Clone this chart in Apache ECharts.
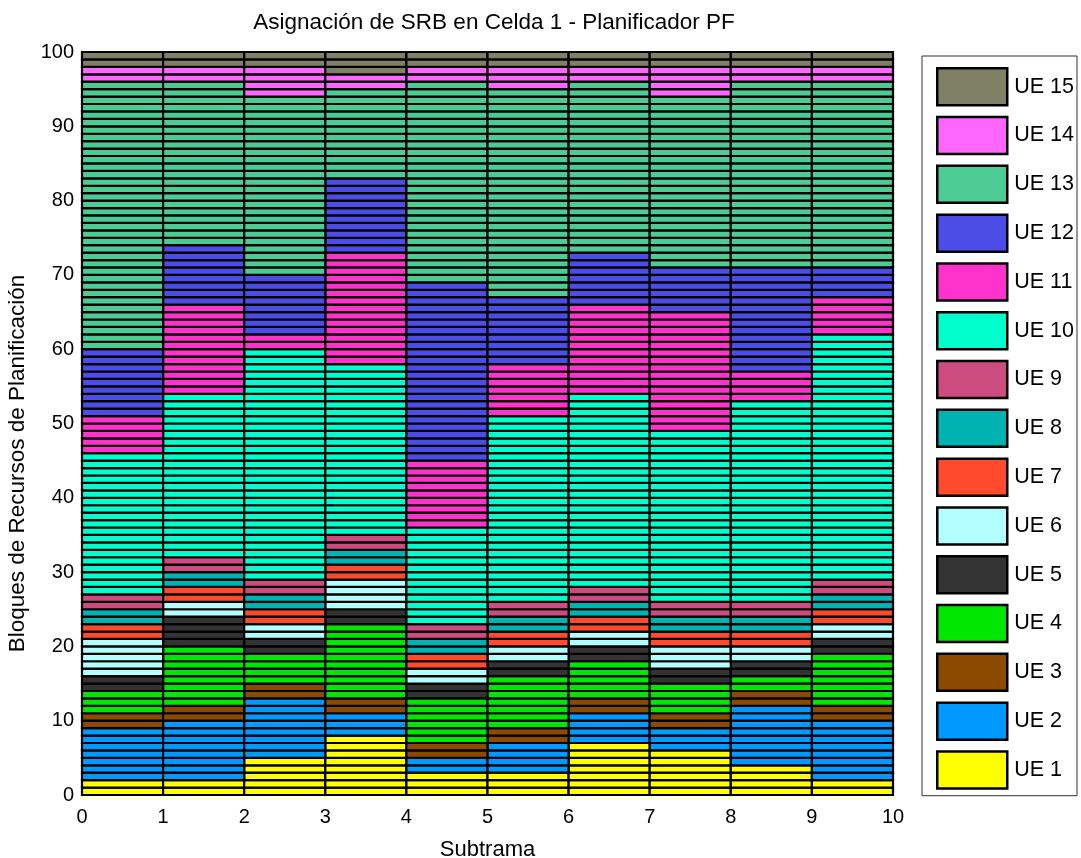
<!DOCTYPE html>
<html>
<head>
<meta charset="utf-8">
<script src="https://cdn.jsdelivr.net/npm/echarts@6/dist/echarts.min.js"></script>
<style>
	html, body { margin: 0; padding: 0; background: #fff; }
	#chart { width: 1081px; height: 858px; }
</style>
</head>
<body>
<div id="chart"></div>
<script>
// subtramas (inicio de cada barra en el eje x)
var subtramas = [0, 1, 2, 3, 4, 5, 6, 7, 8, 9];

// bloques de recursos asignados a cada UE en cada subtrama
var ue1  = [2, 2, 5, 8, 3, 3, 7, 6, 4, 2];
var ue2  = [7, 8, 8, 3, 2, 4, 4, 3, 8, 8];
var ue3  = [2, 2, 2, 2, 2, 2, 2, 2, 2, 2];
var ue4  = [3, 8, 4, 10, 6, 7, 5, 4, 2, 7];
var ue5  = [2, 4, 2, 2, 2, 2, 2, 2, 2, 2];
var ue6  = [5, 2, 2, 4, 2, 2, 2, 3, 2, 2];
var ue7  = [2, 2, 2, 2, 2, 2, 2, 2, 2, 2];
var ue8  = [2, 2, 2, 2, 2, 2, 2, 2, 2, 2];
var ue9  = [2, 2, 2, 2, 2, 2, 2, 2, 2, 2];
var ue10 = [19, 22, 31, 23, 13, 25, 26, 23, 27, 33];
var ue11 = [5, 12, 2, 15, 9, 7, 12, 16, 4, 5];
var ue12 = [9, 8, 8, 10, 24, 9, 7, 6, 14, 4];
var ue13 = [36, 22, 24, 12, 27, 28, 23, 23, 25, 25];
var ue14 = [2, 2, 4, 2, 2, 3, 2, 4, 2, 2];
var ue15 = [2, 2, 2, 3, 2, 2, 2, 2, 2, 2];

var ueNames = ['UE 1', 'UE 2', 'UE 3', 'UE 4', 'UE 5', 'UE 6', 'UE 7', 'UE 8',
	'UE 9', 'UE 10', 'UE 11', 'UE 12', 'UE 13', 'UE 14', 'UE 15'];
var ueColors = ['#ffff00', '#0099ff', '#8c4a00', '#00e600', '#333333', '#b3ffff', '#ff4a2e', '#00b3b3',
	'#cc4c80', '#00ffcc', '#ff33cc', '#4c4ce6', '#4ccc94', '#ff66ff', '#808066'];
var ueData = [ue1, ue2, ue3, ue4, ue5, ue6, ue7, ue8, ue9, ue10, ue11, ue12, ue13, ue14, ue15];

var yTicks = [0, 10, 20, 30, 40, 50, 60, 70, 80, 90, 100];

var FONT = '"Liberation Sans", Arial, sans-serif';

// dibuja un rectangulo por cada bloque de recursos
function renderBloques(params, api) {
	var x0 = api.value(0);
	var inicio = api.value(1);
	var n = api.value(2);
	var color = api.visual('color');
	var children = [];
	for (var k = 0; k < n; k++) {
		var p0 = api.coord([x0, inicio + k + 1]);
		var p1 = api.coord([x0 + 1, inicio + k]);
		children.push({
			type: 'rect',
			shape: { x: p0[0], y: p0[1], width: p1[0] - p0[0], height: p1[1] - p0[1] },
			style: { fill: color, stroke: '#000', lineWidth: 2.2 }
		});
	}
	return { type: 'group', children: children };
}

var base = subtramas.map(function () { return 0; });
var series = [];
for (var u = 0; u < ueData.length; u++) {
	var items = [];
	for (var c = 0; c < subtramas.length; c++) {
		items.push([subtramas[c], base[c], ueData[u][c]]);
		base[c] += ueData[u][c];
	}
	series.push({
		name: ueNames[u],
		type: 'custom',
		renderItem: renderBloques,
		itemStyle: { color: ueColors[u] },
		encode: { x: 0, y: [1, 2] },
		data: items
	});
}

var chart = echarts.init(document.getElementById('chart'));
var option = {
	backgroundColor: '#fff',
	animation: false,
	title: {
		text: 'Asignación de SRB en Celda 1 - Planificador PF',
		left: 489,
		top: 6,
		textAlign: 'center',
		textStyle: { fontFamily: FONT, fontSize: 22.5, fontWeight: 'normal', color: '#000' }
	},
	legend: {
		orient: 'vertical',
		left: 922,
		top: 56,
		data: ueNames.slice().reverse(),
		icon: 'rect',
		itemWidth: 70,
		itemHeight: 37,
		itemGap: 9.3,
		padding: [11, 3, 6, 14],
		borderColor: '#333',
		borderWidth: 1,
		backgroundColor: '#fff',
		selectedMode: false,
		itemStyle: { borderColor: '#000', borderWidth: 2.5 },
		textStyle: { fontFamily: FONT, fontSize: 21.5, color: '#000', padding: [0, 0, 0, 2] }
	},
	grid: {
		left: 82,
		right: 188,
		top: 52,
		bottom: 63,
		outerBoundsMode: 'none',
		show: true,
		borderColor: '#000',
		borderWidth: 1
	},
	xAxis: {
		type: 'value',
		min: 0,
		max: 10,
		interval: 1,
		name: 'Subtrama',
		nameLocation: 'middle',
		nameGap: 44,
		nameTextStyle: { fontFamily: FONT, fontSize: 22, color: '#000' },
		axisLine: { lineStyle: { color: '#000', width: 1 } },
		axisTick: { inside: true, length: 5, lineStyle: { color: '#000' } },
		axisLabel: { fontFamily: FONT, fontSize: 20, color: '#000', margin: 12 },
		splitLine: { show: false }
	},
	yAxis: {
		type: 'value',
		min: yTicks[0],
		max: yTicks[yTicks.length - 1],
		interval: 10,
		name: 'Bloques de Recursos de Planificación',
		nameLocation: 'middle',
		nameGap: 48,
		nameTextStyle: { fontFamily: FONT, fontSize: 22.5, color: '#000', padding: [0, 80, 0, 0] },
		axisLine: { show: true, lineStyle: { color: '#000', width: 1 } },
		axisTick: { show: true, inside: true, length: 5, lineStyle: { color: '#000' } },
		axisLabel: { fontFamily: FONT, fontSize: 20, color: '#000', margin: 8 },
		splitLine: { show: false }
	},
	series: series
};
chart.setOption(option);
</script>
</body>
</html>
